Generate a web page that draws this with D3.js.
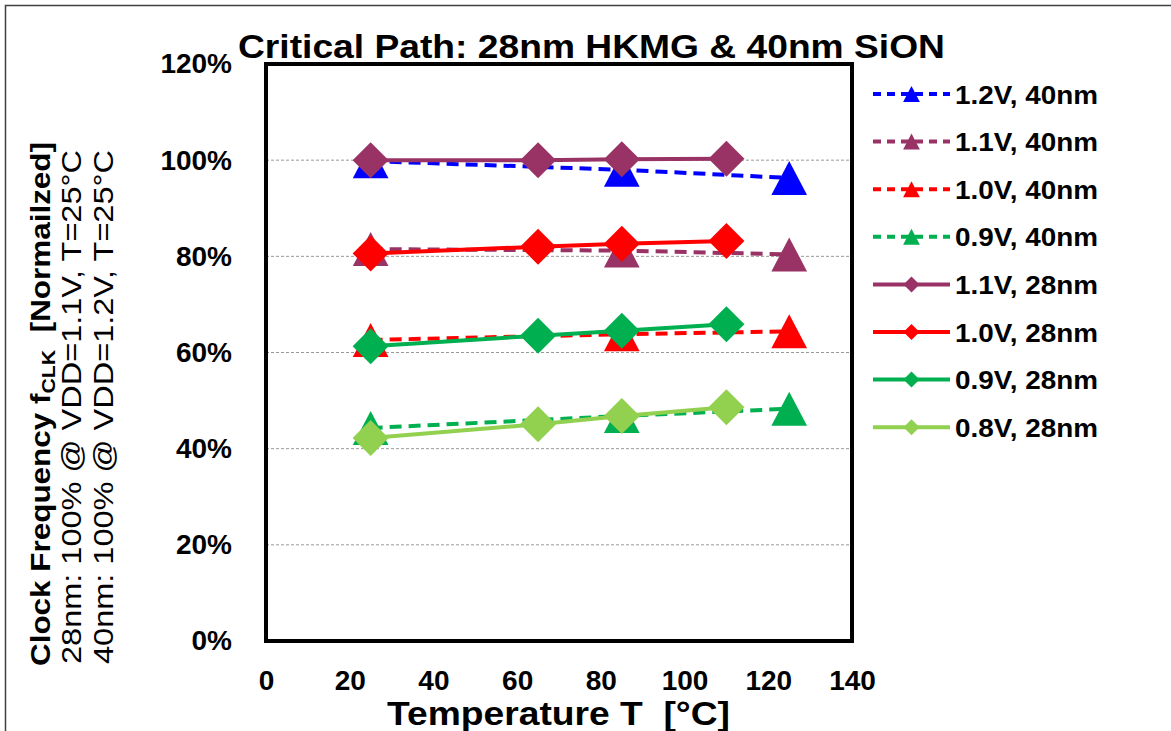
<!DOCTYPE html>
<html>
<head>
<meta charset="utf-8">
<script src="https://cdn.jsdelivr.net/npm/d3@7"></script>
<style>
  body { margin: 0; background: #fff; }
  text { font-family: "Liberation Sans", Arial, sans-serif; }
</style>
</head>
<body>
<script>
// temperatures (°C)
const temps40 = [25, 85, 125];
const temps28 = [25, 65, 85, 110];

// normalized clock frequency (%)
const v12_40 = [99.8, 98.0, 96.3];
const v11_40 = [81.5, 81.2, 80.4];
const v10_40 = [62.6, 63.8, 64.4];
const v09_40 = [44.3, 46.8, 48.3];
const v11_28 = [100.0, 100.0, 100.2, 100.3];
const v10_28 = [80.6, 82.0, 82.6, 83.2];
const v09_28 = [61.3, 63.5, 64.5, 65.9];
const v08_28 = [42.2, 45.1, 46.8, 48.6];

const seriesNames = ['1.2V, 40nm', '1.1V, 40nm', '1.0V, 40nm', '0.9V, 40nm',
                     '1.1V, 28nm', '1.0V, 28nm', '0.9V, 28nm', '0.8V, 28nm'];
const seriesColors = ['#0000FF', '#993366', '#FF0000', '#00B050',
                      '#993366', '#FF0000', '#00B050', '#92D050'];
const yTicks = [0, 20, 40, 60, 80, 100, 120];
const xTicks = [0, 20, 40, 60, 80, 100, 120, 140];

const series = [
  { name: seriesNames[0], color: seriesColors[0], xs: temps40, ys: v12_40, dashed: true },
  { name: seriesNames[1], color: seriesColors[1], xs: temps40, ys: v11_40, dashed: true },
  { name: seriesNames[2], color: seriesColors[2], xs: temps40, ys: v10_40, dashed: true },
  { name: seriesNames[3], color: seriesColors[3], xs: temps40, ys: v09_40, dashed: true },
  { name: seriesNames[4], color: seriesColors[4], xs: temps28, ys: v11_28, dashed: false },
  { name: seriesNames[5], color: seriesColors[5], xs: temps28, ys: v10_28, dashed: false },
  { name: seriesNames[6], color: seriesColors[6], xs: temps28, ys: v09_28, dashed: false },
  { name: seriesNames[7], color: seriesColors[7], xs: temps28, ys: v08_28, dashed: false }
];

const W = 1171, H = 731;
const plot = { left: 266, right: 852, top: 64, bottom: 641 };

const svg = d3.select('body').append('svg')
  .attr('width', W)
  .attr('height', H);

// outer chart border (top + left visible)
svg.append('path')
  .attr('d', `M5.5,${H} L5.5,5.5 L${W},5.5`)
  .attr('fill', 'none')
  .attr('stroke', '#404040')
  .attr('stroke-width', 1.5);

const x = d3.scaleLinear().domain([0, 140]).range([plot.left, plot.right]);
const y = d3.scaleLinear().domain([0, 120]).range([plot.bottom, plot.top]);

// gridlines
svg.append('g')
  .selectAll('line')
  .data(yTicks.filter(d => d > 0 && d < 120))
  .enter().append('line')
  .attr('x1', plot.left).attr('x2', plot.right)
  .attr('y1', d => y(d)).attr('y2', d => y(d))
  .attr('stroke', '#999')
  .attr('stroke-width', 1)
  .attr('stroke-dasharray', '3,2');

// axes
const yAxis = svg.append('g')
  .attr('transform', `translate(${plot.left},0)`)
  .call(d3.axisLeft(y).tickValues(yTicks).tickFormat(d => d + '%').tickSize(0).tickPadding(34));
yAxis.select('.domain').remove();
yAxis.selectAll('text')
  .attr('font-size', 28)
  .attr('font-weight', 'bold')
  .attr('fill', '#000')
  .attr('font-family', '"Liberation Sans", Arial, sans-serif');

const xAxis = svg.append('g')
  .attr('transform', `translate(0,${plot.bottom})`)
  .call(d3.axisBottom(x).tickValues(xTicks).tickSize(0));
xAxis.select('.domain').remove();
xAxis.selectAll('text')
  .attr('y', 49)
  .attr('dy', null)
  .attr('font-size', 28)
  .attr('font-weight', 'bold')
  .attr('fill', '#000')
  .attr('font-family', '"Liberation Sans", Arial, sans-serif');

// marker shapes
function markerPath(isTri, s) {
  if (isTri) {
    const h = s, w = s * 1.05;
    return `M0,${-h / 2} L${w / 2},${h / 2} L${-w / 2},${h / 2} Z`;
  }
  const r = s / 2;
  return `M0,${-r} L${r},0 L0,${r} L${-r},0 Z`;
}

const line = d3.line().x(d => x(d[0])).y(d => y(d[1]));

series.forEach(s => {
  const pts = s.xs.map((t, i) => [t, s.ys[i]]);
  const g = svg.append('g');
  g.append('path')
    .attr('d', line(pts))
    .attr('fill', 'none')
    .attr('stroke', s.color)
    .attr('stroke-width', 4)
    .attr('stroke-dasharray', s.dashed ? '12,7' : null);
  g.selectAll('path.mk')
    .data(pts)
    .enter().append('path')
    .attr('class', 'mk')
    .attr('transform', d => `translate(${x(d[0])},${y(d[1])})`)
    .attr('d', markerPath(s.dashed, s.dashed ? 34 : 36))
    .attr('fill', s.color);
});

// plot border
svg.append('rect')
  .attr('x', plot.left).attr('y', plot.top)
  .attr('width', plot.right - plot.left)
  .attr('height', plot.bottom - plot.top)
  .attr('fill', 'none')
  .attr('stroke', '#000')
  .attr('stroke-width', 4);

// title
svg.append('text')
  .attr('x', 238).attr('y', 58)
  .attr('font-size', 33)
  .attr('font-weight', 'bold')
  .attr('textLength', 707)
  .attr('lengthAdjust', 'spacingAndGlyphs')
  .text('Critical Path: 28nm HKMG & 40nm SiON');

// x axis title
svg.append('text')
  .attr('x', 387).attr('y', 725)
  .attr('font-size', 33)
  .attr('font-weight', 'bold')
  .attr('textLength', 343)
  .attr('lengthAdjust', 'spacingAndGlyphs')
  .style('white-space', 'pre')
  .text('Temperature T  [°C]');

// y axis title (3 lines)
const yt = svg.append('g').attr('transform', 'rotate(-90)');
const l1 = yt.append('text')
  .attr('x', -666).attr('y', 50)
  .attr('font-size', 28)
  .attr('font-weight', 'bold')
  .style('white-space', 'pre');
l1.append('tspan').text('Clock Frequency f');
l1.append('tspan').attr('font-size', 19).attr('dy', 5).text('CLK');
l1.append('tspan').attr('dy', -5).text('  [Normailzed]');
l1.attr('textLength', 524).attr('lengthAdjust', 'spacingAndGlyphs');

yt.append('text')
  .attr('x', -664).attr('y', 81)
  .attr('font-size', 28)
  .attr('textLength', 514)
  .attr('lengthAdjust', 'spacingAndGlyphs')
  .text('28nm: 100% @ VDD=1.1V, T=25°C');
yt.append('text')
  .attr('x', -664).attr('y', 113)
  .attr('font-size', 28)
  .attr('textLength', 514)
  .attr('lengthAdjust', 'spacingAndGlyphs')
  .text('40nm: 100% @ VDD=1.2V, T=25°C');

// legend
const legend = svg.append('g').attr('transform', 'translate(873,94)');
series.forEach((s, i) => {
  const row = legend.append('g').attr('transform', `translate(0,${i * 47.6})`);
  row.append('line')
    .attr('x1', 0).attr('x2', 77)
    .attr('y1', 0).attr('y2', 0)
    .attr('stroke', s.color)
    .attr('stroke-width', 4)
    .attr('stroke-dasharray', s.dashed ? '8,6' : null);
  row.append('path')
    .attr('transform', 'translate(38.5,0)')
    .attr('d', markerPath(s.dashed, 16))
    .attr('fill', s.color);
  row.append('text')
    .attr('x', 82).attr('y', 9.5)
    .attr('font-size', 26)
    .attr('font-weight', 'bold')
    .attr('textLength', 143)
    .attr('lengthAdjust', 'spacingAndGlyphs')
    .text(s.name);
});
</script>
</body>
</html>
